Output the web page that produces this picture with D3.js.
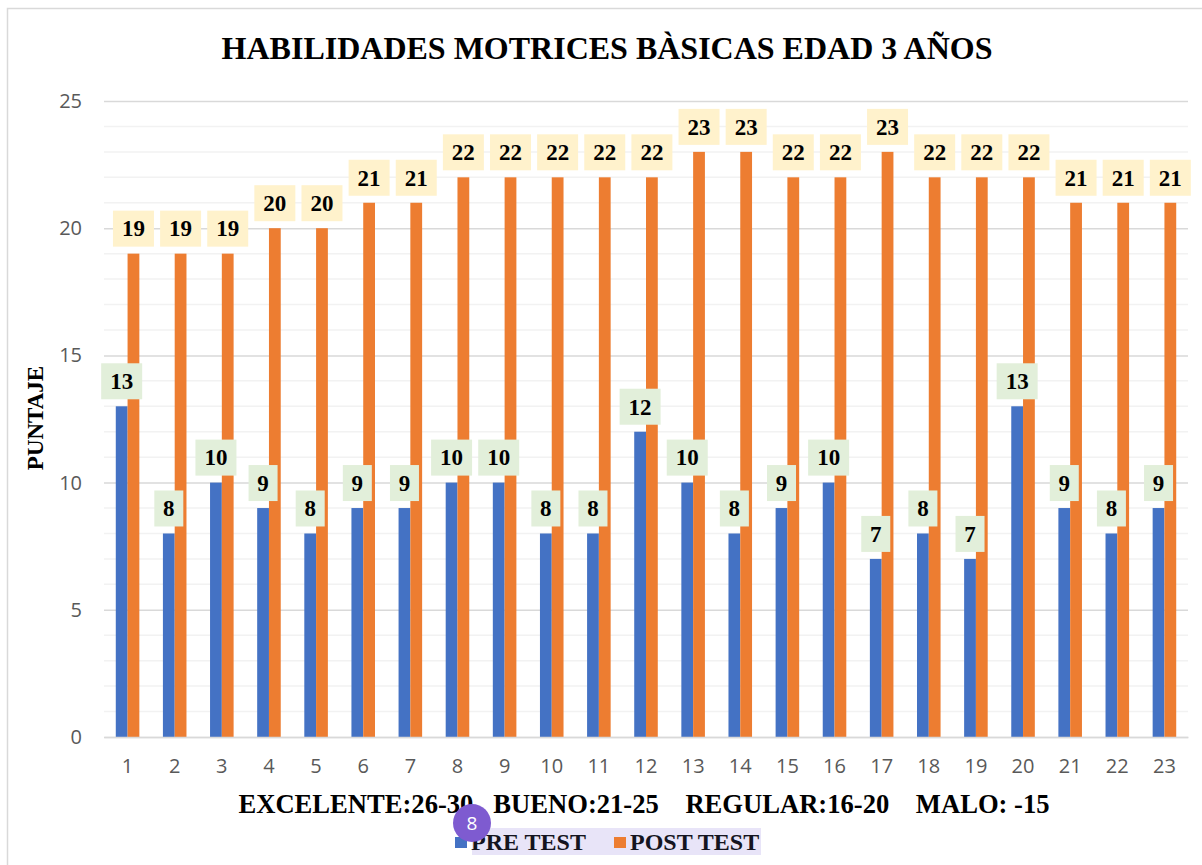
<!DOCTYPE html>
<head>
  <meta charset="utf-8">
  <script src="https://d3js.org/d3.v7.min.js"></script>
  <style>
    body { margin:0; background:#fff; }
    svg { display:block; }
  </style>
</head>
<body>
  <script>
    // data
    var alumnos = d3.range(1, 24).map(String);
    var preTest  = [13, 8, 10, 9, 8, 9, 9, 10, 10, 8, 8, 12, 10, 8, 9, 10, 7, 8, 7, 13, 9, 8, 9];
    var postTest = [19, 19, 19, 20, 20, 21, 21, 22, 22, 22, 22, 22, 23, 23, 22, 22, 23, 22, 22, 22, 21, 21, 21];
    var yTicks = [0, 5, 10, 15, 20, 25];
    var series = [
      {name: "PRE TEST", values: preTest, color: "#4472c4", labelBg: "#e2efda"},
      {name: "POST TEST", values: postTest, color: "#ed7d31", labelBg: "#fff2cc"}
    ];

    var W = 1202, H = 865;
    var plotL = 104, plotR = 1188, plotT = 101, plotB = 737;
    var serif = "'Liberation Serif', 'Times New Roman', serif";
    var sans = "'Open Sans', sans-serif";

    var svg = d3.select("body").append("svg")
      .attr("width", W)
      .attr("height", H);

    // chart border (only left and top visible)
    svg.append("path")
      .attr("d", "M7.5," + H + "V8.5H" + W)
      .attr("fill", "none")
      .attr("stroke", "#d9d9d9")
      .attr("stroke-width", 1.5);

    var x = d3.scaleBand()
      .domain(alumnos)
      .range([plotL, plotR]);

    var y = d3.scaleLinear()
      .domain([0, 25])
      .range([plotB, plotT]);

    var barW = x.bandwidth() / 4;
    var x1 = d3.scaleBand()
      .domain(series.map(function (s) { return s.name; }))
      .range([x.bandwidth() / 2 - barW, x.bandwidth() / 2 + barW]);

    // minor gridlines every unit
    svg.append("g")
      .selectAll("line")
      .data(d3.range(1, 25).filter(function (v) { return v % 5 != 0; }))
      .enter()
      .append("line")
      .attr("x1", plotL).attr("x2", plotR)
      .attr("y1", function (d) { return y(d); })
      .attr("y2", function (d) { return y(d); })
      .attr("stroke", "#f2f2f2")
      .attr("stroke-width", 1.5);

    // major axis
    var yAxis = svg.append("g")
      .attr("transform", "translate(" + plotL + ",0)")
      .call(d3.axisLeft(y).tickValues(yTicks).tickSize(-(plotR - plotL)).tickPadding(22));
    yAxis.select(".domain").remove();
    yAxis.selectAll(".tick line").attr("stroke", "#d9d9d9").attr("stroke-width", 1.5);
    yAxis.selectAll(".tick text")
      .attr("fill", "#595959")
      .style("font-family", sans)
      .style("font-size", "20px");

    // bars
    var groups = svg.append("g")
      .selectAll("g")
      .data(series)
      .enter()
      .append("g")
      .attr("fill", function (s) { return s.color; });

    groups.selectAll("rect")
      .data(function (s) { return s.values.map(function (v, i) { return {s: s, v: v, i: i}; }); })
      .enter()
      .append("rect")
      .attr("x", function (d) { return x(alumnos[d.i]) + x1(d.s.name); })
      .attr("y", function (d) { return y(d.v); })
      .attr("width", x1.bandwidth())
      .attr("height", function (d) { return y(0) - y(d.v); });

    // x axis
    var xAxis = svg.append("g")
      .attr("transform", "translate(0," + plotB + ")")
      .call(d3.axisBottom(x).tickSize(0).tickPadding(22));
    xAxis.select(".domain").attr("stroke", "#d9d9d9").attr("stroke-width", 1.5);
    xAxis.selectAll(".tick text")
      .attr("fill", "#595959")
      .style("font-family", sans)
      .style("font-size", "20px");

    // data labels
    series.forEach(function (s) {
      var lab = svg.append("g").selectAll("g")
        .data(s.values.map(function (v, i) { return {v: v, i: i}; }))
        .enter()
        .append("g")
        .attr("transform", function (d) {
          return "translate(" + (x(alumnos[d.i]) + x1(s.name) + x1.bandwidth() / 2) + "," + (y(d.v) - 25) + ")";
        });
      lab.append("rect")
        .attr("fill", s.labelBg)
        .attr("y", -18)
        .attr("height", 36)
        .attr("x", function (d) { return d.v >= 10 ? -20.5 : -14.5; })
        .attr("width", function (d) { return d.v >= 10 ? 41 : 29; });
      lab.append("text")
        .attr("text-anchor", "middle")
        .attr("dy", "0.34em")
        .style("font-family", serif)
        .style("font-weight", "bold")
        .style("font-size", "23px")
        .text(function (d) { return d.v; });
    });

    // title
    svg.append("text")
      .attr("x", 607).attr("y", 59)
      .attr("text-anchor", "middle")
      .style("font-family", serif)
      .style("font-weight", "bold")
      .style("font-size", "32px")
      .text("HABILIDADES MOTRICES BÀSICAS EDAD 3 AÑOS");

    // y axis title
    svg.append("text")
      .attr("transform", "translate(43,418) rotate(-90)")
      .attr("text-anchor", "middle")
      .style("font-family", serif)
      .style("font-weight", "bold")
      .style("font-size", "23px")
      .text("PUNTAJE");

    // x axis title
    svg.append("text")
      .attr("x", 644).attr("y", 813)
      .attr("text-anchor", "middle")
      .attr("xml:space", "preserve")
      .style("white-space", "pre")
      .style("font-family", serif)
      .style("font-weight", "bold")
      .style("font-size", "26.6px")
      .text("EXCELENTE:26-30   BUENO:21-25    REGULAR:16-20    MALO: -15");

    // legend
    var legend = svg.append("g");
    legend.append("rect")
      .attr("x", 472).attr("y", 828)
      .attr("width", 289).attr("height", 27)
      .attr("fill", "#e8e4f8");
    var legX = [455, 614];
    series.forEach(function (s, i) {
      legend.append("rect")
        .attr("x", legX[i]).attr("y", 837)
        .attr("width", 12).attr("height", 11)
        .attr("fill", s.color);
      legend.append("text")
        .attr("x", legX[i] + 16).attr("y", 850)
        .attr("fill", "#141420")
        .style("font-family", serif)
        .style("font-weight", "bold")
        .style("font-size", "24px")
        .text(s.name);
    });

    // badge overlapping the legend
    legend.append("circle")
      .attr("cx", 472).attr("cy", 823).attr("r", 19)
      .attr("fill", "#7e5bd0");
    legend.append("text")
      .attr("x", 472).attr("y", 823)
      .attr("dy", "0.35em")
      .attr("text-anchor", "middle")
      .attr("fill", "#fff")
      .style("font-family", sans)
      .style("font-size", "19px")
      .text("8");
  </script>
</body>
